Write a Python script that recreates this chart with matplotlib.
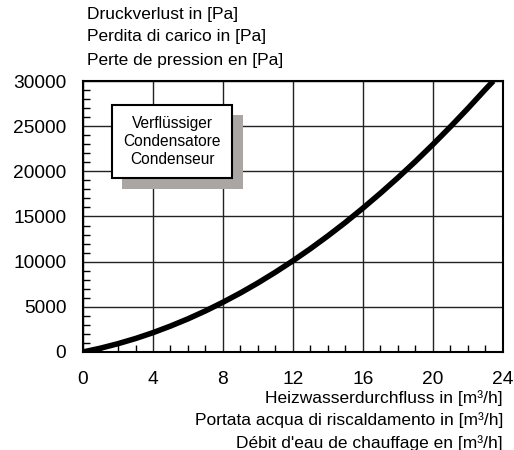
import matplotlib
matplotlib.use('Agg')
import matplotlib.pyplot as plt
from matplotlib.ticker import MultipleLocator
from matplotlib.patches import Rectangle

plt.rcParams['font.family'] = ['Liberation Sans', 'DejaVu Sans']

# flow [m3/h] and pressure drop [Pa]
flow = [0, 1, 2, 3, 4, 5, 6, 7, 8, 9, 10, 11, 12, 13, 14, 15, 16, 17, 18, 19, 20, 21, 22, 23, 23.45]
dp = [0, 420, 920, 1490, 2140, 2870, 3670, 4550, 5510, 6540, 7650, 8840, 10100, 11440,
      12860, 14350, 15930, 17580, 19300, 21100, 22980, 24940, 26970, 29080, 30000]

x_ticks = [0, 4, 8, 12, 16, 20, 24]
y_ticks = [0, 5000, 10000, 15000, 20000, 25000, 30000]

y_label = ['Druckverlust in [Pa]', 'Perdita di carico in [Pa]', 'Perte de pression en [Pa]']
x_label = ['Heizwasserdurchfluss in [m³/h]', 'Portata acqua di riscaldamento in [m³/h]',
           "Débit d'eau de chauffage en [m³/h]"]
box_text = ['Verflüssiger', 'Condensatore', 'Condenseur']

fig = plt.figure(figsize=(5.14, 4.5), dpi=100)
ax = fig.add_axes([0.1615, 0.2178, 0.817, 0.6022])

ax.plot(flow, dp, color='black', lw=4, solid_capstyle='butt', zorder=3)

ax.set_xlim(0, 24)
ax.set_ylim(0, 30000)
ax.set_xticks(x_ticks)
ax.set_yticks(y_ticks)
ax.xaxis.set_minor_locator(MultipleLocator(1))
ax.yaxis.set_minor_locator(MultipleLocator(1000))
ax.grid(True, which='major', color='#222222', lw=1)
ax.tick_params(which='major', length=0, labelsize=13.8, pad=14)
ax.tick_params(axis='y', which='major', pad=12)
ax.tick_params(which='minor', direction='in', length=5, width=1, color='black')
for s in ax.spines.values():
    s.set_linewidth(1.5)
    s.set_color('black')

# legend-like box with shadow
ax.add_patch(Rectangle((0.093, 0.603), 0.288, 0.27, transform=ax.transAxes,
                       facecolor='#a9a6a3', edgecolor='none', zorder=4))
ax.add_patch(Rectangle((0.069, 0.643), 0.286, 0.27, transform=ax.transAxes,
                       facecolor='white', edgecolor='black', lw=1.5, zorder=5))
ax.text(0.212, 0.778, '\n'.join(box_text), transform=ax.transAxes, ha='center',
        va='center', fontsize=11.2, linespacing=1.25, zorder=6)

for i, t in enumerate(y_label):
    fig.text(87 / 514, 1 - (14 + 23 * i) / 450, t, ha='left', va='center', fontsize=12.5)
for i, t in enumerate(x_label):
    fig.text(503 / 514, 1 - (398 + 22.5 * i) / 450, t, ha='right', va='center', fontsize=12.5)

fig.savefig('out.png', dpi=100)
